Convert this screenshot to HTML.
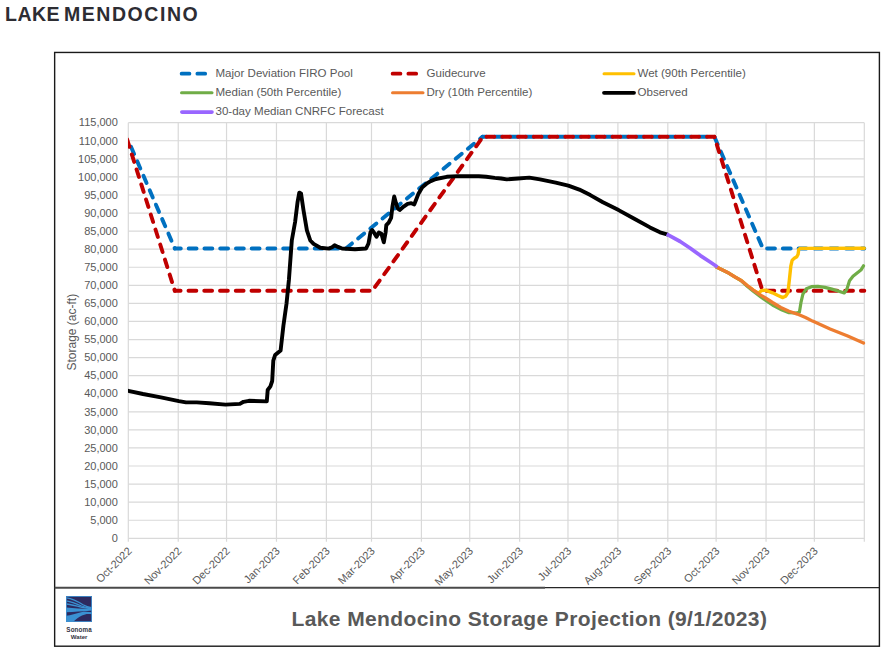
<!DOCTYPE html>
<html><head><meta charset="utf-8"><title>Lake Mendocino</title>
<style>
html,body{margin:0;padding:0;background:#fff;}
body{width:891px;height:655px;overflow:hidden;position:relative;}
h1{position:absolute;left:5px;top:0;margin:0;font-family:'Liberation Sans',Arial,sans-serif;font-weight:bold;font-size:19.5px;line-height:28px;color:#2d2d33;letter-spacing:1.0px;white-space:nowrap;}
svg{position:absolute;left:0;top:0;}
h1 .w1{letter-spacing:0.47px;}
h1 .w2{letter-spacing:1.56px;margin-left:-2.5px;}
</style></head><body>
<svg width="891" height="655" viewBox="0 0 891 655">
<g stroke="#d9d9d9" stroke-width="1.2" fill="none"><line x1="128.3" y1="538.30" x2="864.3" y2="538.30"/><line x1="128.3" y1="520.23" x2="864.3" y2="520.23"/><line x1="128.3" y1="502.16" x2="864.3" y2="502.16"/><line x1="128.3" y1="484.09" x2="864.3" y2="484.09"/><line x1="128.3" y1="466.02" x2="864.3" y2="466.02"/><line x1="128.3" y1="447.95" x2="864.3" y2="447.95"/><line x1="128.3" y1="429.88" x2="864.3" y2="429.88"/><line x1="128.3" y1="411.81" x2="864.3" y2="411.81"/><line x1="128.3" y1="393.74" x2="864.3" y2="393.74"/><line x1="128.3" y1="375.67" x2="864.3" y2="375.67"/><line x1="128.3" y1="357.60" x2="864.3" y2="357.60"/><line x1="128.3" y1="339.53" x2="864.3" y2="339.53"/><line x1="128.3" y1="321.47" x2="864.3" y2="321.47"/><line x1="128.3" y1="303.40" x2="864.3" y2="303.40"/><line x1="128.3" y1="285.33" x2="864.3" y2="285.33"/><line x1="128.3" y1="267.26" x2="864.3" y2="267.26"/><line x1="128.3" y1="249.19" x2="864.3" y2="249.19"/><line x1="128.3" y1="231.12" x2="864.3" y2="231.12"/><line x1="128.3" y1="213.05" x2="864.3" y2="213.05"/><line x1="128.3" y1="194.98" x2="864.3" y2="194.98"/><line x1="128.3" y1="176.91" x2="864.3" y2="176.91"/><line x1="128.3" y1="158.84" x2="864.3" y2="158.84"/><line x1="128.3" y1="140.77" x2="864.3" y2="140.77"/><line x1="128.3" y1="122.70" x2="864.3" y2="122.70"/><line x1="128.30" y1="122.7" x2="128.30" y2="541.8"/><line x1="178.23" y1="122.7" x2="178.23" y2="541.8"/><line x1="226.54" y1="122.7" x2="226.54" y2="541.8"/><line x1="276.47" y1="122.7" x2="276.47" y2="541.8"/><line x1="326.39" y1="122.7" x2="326.39" y2="541.8"/><line x1="371.49" y1="122.7" x2="371.49" y2="541.8"/><line x1="421.41" y1="122.7" x2="421.41" y2="541.8"/><line x1="469.73" y1="122.7" x2="469.73" y2="541.8"/><line x1="519.65" y1="122.7" x2="519.65" y2="541.8"/><line x1="567.97" y1="122.7" x2="567.97" y2="541.8"/><line x1="617.89" y1="122.7" x2="617.89" y2="541.8"/><line x1="667.82" y1="122.7" x2="667.82" y2="541.8"/><line x1="716.13" y1="122.7" x2="716.13" y2="541.8"/><line x1="766.06" y1="122.7" x2="766.06" y2="541.8"/><line x1="814.37" y1="122.7" x2="814.37" y2="541.8"/><line x1="864.30" y1="122.7" x2="864.30" y2="541.8"/></g>
<g font-family="'Liberation Sans', Arial, sans-serif" font-size="11" fill="#595959" text-anchor="end"><text x="117.8" y="542.0">0</text><text x="117.8" y="523.9">5,000</text><text x="117.8" y="505.9">10,000</text><text x="117.8" y="487.8">15,000</text><text x="117.8" y="469.7">20,000</text><text x="117.8" y="451.7">25,000</text><text x="117.8" y="433.6">30,000</text><text x="117.8" y="415.5">35,000</text><text x="117.8" y="397.4">40,000</text><text x="117.8" y="379.4">45,000</text><text x="117.8" y="361.3">50,000</text><text x="117.8" y="343.2">55,000</text><text x="117.8" y="325.2">60,000</text><text x="117.8" y="307.1">65,000</text><text x="117.8" y="289.0">70,000</text><text x="117.8" y="271.0">75,000</text><text x="117.8" y="252.9">80,000</text><text x="117.8" y="234.8">85,000</text><text x="117.8" y="216.7">90,000</text><text x="117.8" y="198.7">95,000</text><text x="117.8" y="180.6">100,000</text><text x="117.8" y="162.5">105,000</text><text x="117.8" y="144.5">110,000</text><text x="117.8" y="126.4">115,000</text></g>
<g font-family="'Liberation Sans', Arial, sans-serif" font-size="11" fill="#595959" text-anchor="end"><text transform="translate(132.5,551.6) rotate(-45)" x="0" y="0">Oct-2022</text><text transform="translate(182.4,551.6) rotate(-45)" x="0" y="0">Nov-2022</text><text transform="translate(230.7,551.6) rotate(-45)" x="0" y="0">Dec-2022</text><text transform="translate(280.7,551.6) rotate(-45)" x="0" y="0">Jan-2023</text><text transform="translate(330.6,551.6) rotate(-45)" x="0" y="0">Feb-2023</text><text transform="translate(375.7,551.6) rotate(-45)" x="0" y="0">Mar-2023</text><text transform="translate(425.6,551.6) rotate(-45)" x="0" y="0">Apr-2023</text><text transform="translate(473.9,551.6) rotate(-45)" x="0" y="0">May-2023</text><text transform="translate(523.9,551.6) rotate(-45)" x="0" y="0">Jun-2023</text><text transform="translate(572.2,551.6) rotate(-45)" x="0" y="0">Jul-2023</text><text transform="translate(622.1,551.6) rotate(-45)" x="0" y="0">Aug-2023</text><text transform="translate(672.0,551.6) rotate(-45)" x="0" y="0">Sep-2023</text><text transform="translate(720.3,551.6) rotate(-45)" x="0" y="0">Oct-2023</text><text transform="translate(770.3,551.6) rotate(-45)" x="0" y="0">Nov-2023</text><text transform="translate(818.6,551.6) rotate(-45)" x="0" y="0">Dec-2023</text></g>
<text transform="translate(76.4,332.2) rotate(-90)" font-family="'Liberation Sans', Arial, sans-serif" font-size="12" fill="#595959" text-anchor="middle">Storage (ac-ft)</text>
<defs><clipPath id="pc"><rect x="128.0" y="100" width="739.0" height="450"/></clipPath></defs>
<g clip-path="url(#pc)"><line x1="128.30" y1="140.50" x2="174.80" y2="248.50" stroke="#0070c0" stroke-width="3.9" stroke-dasharray="7.85 7.90" stroke-dashoffset="8.90" stroke-linecap="round"/><line x1="174.80" y1="248.50" x2="345.80" y2="248.50" stroke="#0070c0" stroke-width="3.9" stroke-dasharray="7.85 7.90" stroke-dashoffset="1.85" stroke-linecap="round"/><line x1="345.80" y1="248.50" x2="482.50" y2="136.80" stroke="#0070c0" stroke-width="3.9" stroke-dasharray="7.85 7.90" stroke-dashoffset="15.60" stroke-linecap="round"/><line x1="482.50" y1="136.80" x2="714.40" y2="136.80" stroke="#0070c0" stroke-width="3.9" stroke-dasharray="7.85 7.90" stroke-dashoffset="3.95" stroke-linecap="round"/><line x1="714.40" y1="136.80" x2="762.90" y2="248.50" stroke="#0070c0" stroke-width="3.9" stroke-dasharray="7.85 7.90" stroke-dashoffset="15.51" stroke-linecap="round"/><line x1="762.90" y1="248.50" x2="864.30" y2="248.50" stroke="#0070c0" stroke-width="3.9" stroke-dasharray="7.85 7.90" stroke-dashoffset="11.55" stroke-linecap="round"/><line x1="126.30" y1="136.85" x2="174.80" y2="290.80" stroke="#c00000" stroke-width="3.9" stroke-dasharray="7.85 7.90" stroke-dashoffset="13.10" stroke-linecap="round"/><line x1="174.80" y1="290.80" x2="372.30" y2="290.80" stroke="#c00000" stroke-width="3.9" stroke-dasharray="7.85 7.90" stroke-dashoffset="2.05" stroke-linecap="round"/><line x1="372.30" y1="290.80" x2="483.00" y2="136.80" stroke="#c00000" stroke-width="3.9" stroke-dasharray="7.85 7.90" stroke-dashoffset="11.05" stroke-linecap="round"/><line x1="483.00" y1="136.80" x2="714.40" y2="136.80" stroke="#c00000" stroke-width="3.9" stroke-dasharray="7.85 7.90" stroke-dashoffset="12.25" stroke-linecap="round"/><line x1="714.40" y1="136.80" x2="762.50" y2="290.80" stroke="#c00000" stroke-width="3.9" stroke-dasharray="7.85 7.90" stroke-dashoffset="7.60" stroke-linecap="round"/><line x1="762.50" y1="290.80" x2="864.30" y2="290.80" stroke="#c00000" stroke-width="3.9" stroke-dasharray="7.85 7.90" stroke-dashoffset="11.85" stroke-linecap="round"/><polyline points="716.5,267.0 728.7,273.1 735.0,277.0 741.1,280.4 747.2,285.5 753.3,290.1 757.5,292.8 759.4,292.6 761.2,290.6 765.5,290.1 772.5,292.8 778.0,295.5 782.8,297.6 785.6,296.2 787.9,292.8 789.3,280.4 790.8,266.2 792.2,260.2 794.3,258.3 796.8,256.8 798.1,254.3 798.7,249.6 800.0,248.4 864.3,248.3" stroke="#ffc000" stroke-width="3.4" stroke-linejoin="round" stroke-linecap="round" fill="none"/><polyline points="716.5,267.0 728.7,273.1 735.0,277.0 741.1,280.6 747.2,286.2 753.3,291.2 761.5,297.5 772.5,305.0 782.1,310.0 789.0,312.7 796.0,313.0 799.4,312.3 801.1,301.8 802.9,294.2 806.3,288.8 811.5,286.7 817.8,286.4 824.9,287.4 831.9,289.1 838.9,291.2 844.2,293.0 846.8,289.5 849.5,280.7 853.0,276.3 857.4,272.8 860.9,270.1 863.5,265.8" stroke="#70ad47" stroke-width="3.2" stroke-linejoin="round" stroke-linecap="round" fill="none"/><polyline points="716.5,267.0 728.7,273.1 735.0,277.0 741.1,280.4 747.2,285.5 753.3,290.1 759.4,294.4 765.5,298.0 772.5,302.5 780.8,307.5 789.0,311.3 797.3,314.1 805.5,317.5 812.6,321.1 830.1,329.0 847.7,336.0 863.5,343.1" stroke="#ed7d31" stroke-width="3.3" stroke-linejoin="round" stroke-linecap="round" fill="none"/><polyline points="128.3,390.8 143.0,394.0 160.9,397.4 178.9,401.2 186.0,402.4 196.8,402.4 209.4,403.3 225.5,404.6 239.9,403.9 243.5,401.8 248.9,400.8 266.8,401.4 267.7,390.0 270.4,386.3 272.2,381.0 273.3,360.6 275.1,355.1 280.6,350.5 283.4,325.8 284.7,316.6 286.5,303.8 288.9,280.0 291.8,240.5 295.1,222.0 297.6,201.8 299.3,192.6 301.0,193.4 303.5,210.3 306.9,230.4 310.3,240.5 313.6,243.9 320.3,247.7 328.7,248.6 332.1,247.2 334.6,245.2 338.0,246.9 342.0,248.5 355.0,249.2 366.1,248.5 368.5,243.5 370.4,232.5 372.2,230.0 374.7,233.7 376.5,236.8 378.9,232.5 381.4,233.7 383.8,242.3 385.6,232.5 386.3,225.2 388.7,222.7 391.1,217.9 392.4,206.9 394.2,196.5 396.0,203.2 397.9,208.7 399.7,209.9 404.0,206.3 407.6,203.8 411.3,203.2 414.3,204.4 416.2,199.5 418.6,193.4 422.3,187.3 426.5,183.7 430.7,181.1 436.0,179.0 446.7,176.8 457.4,176.1 468.1,176.3 478.8,176.3 486.2,176.8 494.8,177.9 501.2,178.5 506.8,179.4 518.1,178.5 529.3,177.6 540.0,179.4 555.7,182.6 568.3,185.7 579.3,189.6 590.3,195.1 602.9,202.2 618.6,210.1 634.3,218.7 650.0,227.4 660.0,232.3 667.0,234.4" stroke="#000000" stroke-width="3.9" stroke-linejoin="round" stroke-linecap="round" fill="none"/><polyline points="666.7,234.2 680.2,241.5 690.3,248.2 700.4,255.6 710.5,262.3 717.5,267.0" stroke="#9966ff" stroke-width="3.7" stroke-linejoin="round" stroke-linecap="butt" fill="none"/></g>
<line x1="181.6" y1="73.7" x2="207" y2="73.7" stroke="#0070c0" stroke-width="3.75" stroke-linecap="round" stroke-dasharray="7.85 7.9"/><line x1="392.6" y1="73.7" x2="418" y2="73.7" stroke="#c00000" stroke-width="3.75" stroke-linecap="round" stroke-dasharray="7.85 7.9"/><line x1="604" y1="73.7" x2="634" y2="73.7" stroke="#ffc000" stroke-width="3.0" stroke-linecap="round"/><line x1="181.5" y1="92.8" x2="212" y2="92.8" stroke="#70ad47" stroke-width="3.0" stroke-linecap="round"/><line x1="392.5" y1="92.8" x2="423" y2="92.8" stroke="#ed7d31" stroke-width="3.0" stroke-linecap="round"/><line x1="604" y1="92.8" x2="634" y2="92.8" stroke="#000000" stroke-width="3.8" stroke-linecap="round"/><line x1="181.8" y1="112.1" x2="212" y2="112.1" stroke="#9966ff" stroke-width="3.6" stroke-linecap="round"/>
<g font-family="'Liberation Sans', Arial, sans-serif" font-size="11.55" fill="#595959"><text x="215.5" y="77.3">Major Deviation FIRO Pool</text><text x="426.5" y="77.3">Guidecurve</text><text x="637.5" y="77.3">Wet (90th Percentile)</text><text x="215.5" y="96.0">Median (50th Percentile)</text><text x="426.5" y="96.0">Dry (10th Percentile)</text><text x="637.5" y="96.0">Observed</text><text x="215.5" y="115.4">30-day Median CNRFC Forecast</text></g>
<rect x="54.65" y="52.45" width="824.75" height="593.75" fill="none" stroke="#1a1a1a" stroke-width="1.4"/>
<line x1="54.65" y1="587.8" x2="545" y2="587.8" stroke="#4a4a4a" stroke-width="2.1"/>
<line x1="545" y1="587.55" x2="879.4" y2="587.55" stroke="#262626" stroke-width="1.35"/>
<text x="291.5" y="625.5" font-family="'Liberation Sans', Arial, sans-serif" font-size="21" font-weight="bold" fill="#595959" letter-spacing="0.39">Lake Mendocino Storage Projection (9/1/2023)</text>
<g transform="translate(66,596)">
<rect x="0" y="0" width="26" height="26" fill="#2d2a5f"/>
<path d="M0.5,1.8 C6,2.5 12,5.5 17,8.8 C20.5,10.8 23.5,11.4 25.5,11.6" stroke="#3a91d2" stroke-width="1.2" fill="none"/>
<path d="M0.5,4.9 C6,5.8 11,8 15.5,10 C19.5,11.6 22.5,12 25.5,12" stroke="#3a91d2" stroke-width="1.2" fill="none"/>
<path d="M0.5,8 C6,8.6 11,10 16,11.4 C20,12.3 23,12.6 25.5,12.5" stroke="#3a91d2" stroke-width="1.3" fill="none"/>
<path d="M0,11.6 C8,12.3 16,13 26,13 L26,14.6 C16,15.6 8,16 0,16.3 Z" fill="#3a91d2"/>
<path d="M0,19.8 C5,19.4 10,17.2 15,16.2 C19,15.5 23,15.8 26,16.3 L26,18.2 C22,17.6 19,17.8 16,19.5 C12,21.5 9,24 7,26 L0,26 Z" fill="#3a91d2"/>
<rect x="0.5" y="0.5" width="25" height="25" fill="none" stroke="#3f8fd0" stroke-width="1" opacity="0.85"/>
</g>
<text x="79.1" y="631.8" font-family="'Liberation Sans', Arial, sans-serif" font-size="6.3" font-weight="bold" fill="#333340" text-anchor="middle" letter-spacing="0.1">Sonoma</text>
<text x="79.1" y="638.6" font-family="'Liberation Sans', Arial, sans-serif" font-size="6.1" font-weight="bold" fill="#333340" text-anchor="middle">Water</text>
</svg>
<h1><span class="w1">LAKE</span> <span class="w2">MENDOCINO</span></h1>
</body></html>
